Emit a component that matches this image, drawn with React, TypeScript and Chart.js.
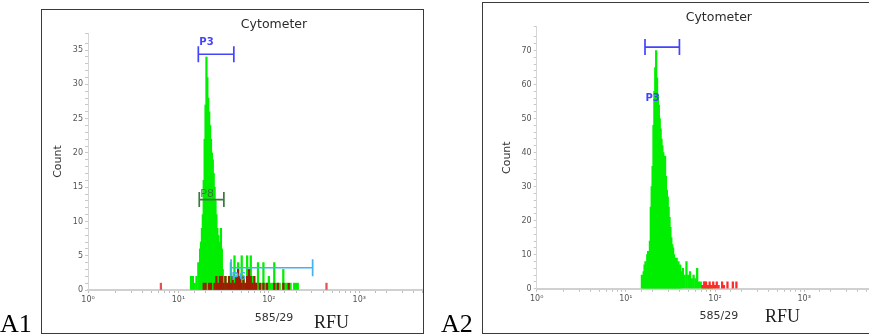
import React, { useEffect, useRef } from 'react';
import { Chart, registerables } from 'chart.js';

Chart.register(...registerables);

// ---------------- DATA ----------------
// A1 sample (green) histogram: channel (RFU) and count
const a1Channels = [
  13.8, 14.45, 15.14, 15.85, 16.6, 16.98, 17.38, 17.78, 18.2, 18.62, 19.05, 19.5, 19.95, 20.42, 20.89,
  21.38, 21.88, 22.39, 22.91, 23.44, 23.99, 24.55, 25.12, 25.7, 26.3, 26.92, 27.54, 28.18, 28.84, 29.51,
  30.2, 30.9, 31.62, 33.11, 34.67, 36.31, 38.02, 39.81, 41.69, 43.65, 45.71, 47.86, 50.12, 52.48, 54.95,
  57.54, 60.26, 63.1, 66.07, 69.18, 72.44, 75.86, 79.43, 83.18, 87.1, 91.2, 95.5, 100, 104.7, 109.6,
  114.8, 120.2, 125.9, 131.8, 144.5, 151.4, 158.5, 173.8, 190.5, 199.5, 208.9,
];
const a1Counts = [
  2, 2, 1, 2, 4, 2, 6, 7, 9, 11, 16, 22, 27, 34, 31,
  28, 26, 24, 22, 20, 19, 17, 15, 13, 11, 9, 8, 6, 7, 9,
  6, 3, 2, 2, 1, 2, 4, 2, 5, 2, 4, 1, 5, 2, 1,
  5, 2, 5, 2, 1, 1, 4, 1, 1, 4, 1, 1, 2, 1, 1,
  4, 1, 1, 1, 3, 1, 1, 1, 1, 1, 1,
];
// A1 overlay (dark red) histogram
const a1RedChannels = [
  19.05, 19.95, 21.88, 22.91, 25.12, 26.3, 27.54, 28.84, 30.2, 31.62, 33.11, 34.67, 36.31, 38.02, 39.81,
  41.69, 43.65, 45.71, 47.86, 50.12, 52.48, 54.95, 57.54, 60.26, 63.1, 66.07, 69.18, 72.44, 79.43, 87.1,
  95.5, 114.8, 125.9, 144.5, 166.0,
];
const a1RedCounts = [
  1, 1, 1, 1, 1, 2, 1, 2, 2, 1, 2, 1, 2, 1, 2,
  1, 2, 3, 2, 1, 2, 1, 2, 3, 2, 1, 2, 1, 1, 1,
  1, 1, 1, 1, 1,
];
// A1 isolated events (light red)
const a1EventChannels = [6.4, 434];
const a1EventCounts = [1, 1];

// A1 gates
const a1GateNames = ['P3', 'P8', 'P6'];
const a1GateLow = [16.6, 17.0, 38.2];
const a1GateHigh = [41.0, 31.8, 305];
const a1GateLevel = [34.4, 13.2, 3.25];

// A2 sample (green) histogram
const a2Channels = [
  15.14, 15.49, 15.85, 16.22, 16.6, 16.98, 17.38, 17.78, 18.2, 18.62, 19.05, 19.5, 19.95, 20.42, 20.89,
  21.38, 21.88, 22.39, 22.91, 23.44, 23.99, 24.55, 25.12, 25.7, 26.3, 26.92, 27.54, 28.18, 28.84, 29.51,
  30.2, 30.9, 31.62, 32.36, 33.11, 33.88, 34.67, 35.48, 36.31, 37.15, 38.02, 38.9, 39.81, 40.74, 41.69,
  43.65, 45.71, 47.86, 50.12, 52.48, 54.95, 57.54, 60.26, 63.1, 66.07, 69.18, 72.44, 75.86, 79.43, 83.18,
  87.1, 91.2,
];
const a2Counts = [
  4, 2, 5, 7, 8, 6, 10, 11, 9, 14, 24, 30, 36, 48, 58,
  65, 70, 62, 57, 54, 50, 47, 44, 42, 40, 37, 39, 33, 29, 27,
  24, 21, 18, 15, 13, 12, 10, 9, 8, 9, 7, 8, 6, 7, 5,
  6, 4, 8, 4, 5, 3, 4, 3, 6, 2, 2, 1, 2, 1, 1,
  1, 1,
];
// A2 overlay (red) histogram
const a2RedChannels = [72.44, 75.86, 79.43, 83.18, 87.1, 91.2, 95.5, 100, 104.7, 109.6, 120.2, 125.9, 138.0, 158.5, 173.8];
const a2RedCounts = [1, 2, 2, 1, 2, 1, 2, 1, 2, 1, 2, 1, 2, 2, 2];

// A2 gates
const a2GateNames = ['P3'];
const a2GateLow = [16.4];
const a2GateHigh = [39.9];
const a2GateLevel = [71];

// Axis texts
const chartTitle = 'Cytometer';
const xAxisTitle = '585/29';
const yAxisTitle = 'Count';
const unitLabel = 'RFU';
const superscripts = ['⁰', '¹', '²', '³', '⁴', '⁵'];

// ---------------- HELPERS ----------------
const SANS = '"DejaVu Sans", Verdana, sans-serif';
const SERIF = '"Liberation Serif", "Times New Roman", serif';

function toPoints(xs: number[], ys: number[]) {
  return xs.map((x, i) => ({ x, y: ys[i] }));
}

type GateStyle = { color: string; font: string; dx: number; dy: number; cap: number };

function makeGatePlugin(names: string[], low: number[], high: number[], level: number[], styles: GateStyle[]) {
  return {
    id: 'gates',
    afterDatasetsDraw(chart: any) {
      const { ctx } = chart;
      const xs = chart.scales.x;
      const ys = chart.scales.y;
      names.forEach((name, i) => {
        const s = styles[i];
        const x1 = xs.getPixelForValue(low[i]);
        const x2 = xs.getPixelForValue(high[i]);
        const yy = ys.getPixelForValue(level[i]);
        ctx.save();
        ctx.strokeStyle = s.color;
        ctx.lineWidth = 1.7;
        ctx.beginPath();
        ctx.moveTo(x1, yy);
        ctx.lineTo(x2, yy);
        ctx.moveTo(x1, yy - s.cap);
        ctx.lineTo(x1, yy + s.cap);
        ctx.moveTo(x2, yy - s.cap);
        ctx.lineTo(x2, yy + s.cap);
        ctx.stroke();
        ctx.fillStyle = s.color;
        ctx.font = s.font;
        ctx.textAlign = 'left';
        ctx.textBaseline = 'alphabetic';
        ctx.fillText(name, x1 + s.dx, yy + s.dy);
        ctx.restore();
      });
    },
  };
}

type PanelSpec = {
  canvasW: number;
  canvasH: number;
  yAxisW: number;
  xAxisH: number;
  xMax: number;
  yMax: number;
  yStep: number;
  yLabelEvery: number;
  titlePad: { top: number; bottom: number };
  xTitlePadBottom: number;
  yTitlePadTop: number;
  datasets: any[];
  gatePlugin: any;
};

function decadeLabel(v: any) {
  const n = Number(v);
  if (n <= 0) return '';
  const e = Math.log10(n);
  const r = Math.round(e);
  if (Math.abs(e - r) < 1e-6 && r >= 0 && r < superscripts.length) return '10' + superscripts[r];
  return '';
}

function HistPanel({ spec }: { spec: PanelSpec }) {
  const ref = useRef<HTMLCanvasElement | null>(null);
  useEffect(() => {
    if (!ref.current) return;
    const chart = new Chart(ref.current, {
      type: 'bar',
      data: { datasets: spec.datasets },
      options: {
        animation: false,
        responsive: false,
        devicePixelRatio: 1,
        layout: { padding: 0 },
        plugins: {
          legend: { display: false },
          tooltip: { enabled: false },
          title: {
            display: true,
            text: chartTitle,
            fullSize: false,
            color: '#2b2b2b',
            font: { family: SANS, size: 12.5, weight: 'normal', lineHeight: 1.2 },
            padding: spec.titlePad,
          },
        },
        scales: {
          x: {
            type: 'logarithmic',
            min: 1,
            max: spec.xMax,
            offset: false,
            border: { color: '#d0d0d0', width: 2 },
            grid: { drawOnChartArea: false, drawTicks: true, tickLength: 3, tickColor: '#bcbcbc', offset: false },
            ticks: {
              autoSkip: false,
              maxRotation: 0,
              minRotation: 0,
              padding: 2,
              color: '#555',
              font: { family: SANS, size: 8 },
              callback: (v: any) => decadeLabel(v),
            },
            title: {
              display: true,
              text: xAxisTitle,
              color: '#333',
              font: { family: SANS, size: 11, lineHeight: 1.2 },
              padding: { top: 0, bottom: spec.xTitlePadBottom },
            },
            afterFit: (s: any) => {
              s.height = spec.xAxisH;
            },
          },
          y: {
            type: 'linear',
            min: 0,
            max: spec.yMax,
            border: { color: '#d6d6d6', width: 1 },
            grid: { drawOnChartArea: false, drawTicks: true, tickLength: 3, tickColor: '#c8c8c8' },
            ticks: {
              stepSize: spec.yStep,
              autoSkip: false,
              padding: 2,
              color: '#555',
              font: { family: SANS, size: 8 },
              callback: (v: any) => (Number(v) % spec.yLabelEvery === 0 ? String(v) : ''),
            },
            title: {
              display: true,
              text: yAxisTitle,
              color: '#333',
              font: { family: SANS, size: 11, lineHeight: 1.2 },
              padding: { top: spec.yTitlePadTop, bottom: 0 },
            },
            afterFit: (s: any) => {
              s.width = spec.yAxisW;
            },
          },
        },
      } as any,
      plugins: [spec.gatePlugin],
    });
    return () => chart.destroy();
  }, [spec]);
  return <canvas ref={ref} width={spec.canvasW} height={spec.canvasH} style={{ position: 'absolute', left: 0, top: 0 }} />;
}

const barCommon = { barThickness: 1.6, grouped: false, borderWidth: 0 };

const a1Spec: PanelSpec = {
  canvasW: 420,
  canvasH: 323,
  yAxisW: 46,
  xAxisH: 43,
  xMax: 13000,
  yMax: 37.5,
  yStep: 1,
  yLabelEvery: 5,
  titlePad: { top: 7.5, bottom: 0.5 },
  xTitlePadBottom: 8.4,
  yTitlePadTop: 9.4,
  datasets: [
    { label: 'Sample', data: toPoints(a1Channels, a1Counts), backgroundColor: '#00ee00', order: 3, ...barCommon },
    { label: 'Overlay', data: toPoints(a1RedChannels, a1RedCounts), backgroundColor: '#a01c00', order: 2, ...barCommon },
    { label: 'Events', data: toPoints(a1EventChannels, a1EventCounts), backgroundColor: '#e25454', order: 1, ...barCommon },
  ],
  gatePlugin: makeGatePlugin(a1GateNames, a1GateLow, a1GateHigh, a1GateLevel, [
    { color: '#4444ff', font: `bold 10px ${SANS}`, dx: 1, dy: -9, cap: 8 },
    { color: '#3a7a3a', font: `11px ${SANS}`, dx: 1, dy: -3, cap: 7.5 },
    { color: '#3fb4f0', font: `bold 10px ${SANS}`, dx: 0.5, dy: 12.5, cap: 8.5 },
  ]),
};

const a2Spec: PanelSpec = {
  canvasW: 420,
  canvasH: 330,
  yAxisW: 53.7,
  xAxisH: 44.3,
  xMax: 12200,
  yMax: 77,
  yStep: 2,
  yLabelEvery: 10,
  titlePad: { top: 7.5, bottom: 1.2 },
  xTitlePadBottom: 10.4,
  yTitlePadTop: 17.4,
  datasets: [
    { label: 'Sample', data: toPoints(a2Channels, a2Counts), backgroundColor: '#00ee00', order: 2, ...barCommon },
    { label: 'Overlay', data: toPoints(a2RedChannels, a2RedCounts), backgroundColor: '#ff2a2a', order: 1, ...barCommon },
  ],
  gatePlugin: makeGatePlugin(a2GateNames, a2GateLow, a2GateHigh, a2GateLevel, [
    { color: '#4444ff', font: `bold 10px ${SANS}`, dx: 0.5, dy: 54, cap: 8 },
  ]),
};

const frameStyle = (left: number, top: number, width: number, height: number): React.CSSProperties => ({
  position: 'absolute',
  left,
  top,
  width,
  height,
  boxSizing: 'border-box',
  border: '1px solid #3a3a3a',
  overflow: 'hidden',
  background: '#fff',
});

const textStyle = (left: number, top: number, size: number, color: string): React.CSSProperties => ({
  position: 'absolute',
  left,
  top,
  fontFamily: SERIF,
  fontSize: size,
  lineHeight: `${size}px`,
  color,
  whiteSpace: 'nowrap',
});

export default function App() {
  return (
    <div style={{ position: 'absolute', left: 0, top: 0, width: 869, height: 336, overflow: 'hidden', background: '#fff' }}>
      <div style={frameStyle(41, 9, 383, 325)}>
        <HistPanel spec={a1Spec} />
      </div>
      <div style={frameStyle(482, 2, 400, 332)}>
        <HistPanel spec={a2Spec} />
      </div>
      <span style={textStyle(314, 313, 18, '#1e1e1e')}>{unitLabel}</span>
      <span style={textStyle(765, 307, 18, '#1e1e1e')}>{unitLabel}</span>
      <span style={textStyle(0, 311, 26, '#000')}>A1</span>
      <span style={textStyle(441, 311, 26, '#000')}>A2</span>
    </div>
  );
}
